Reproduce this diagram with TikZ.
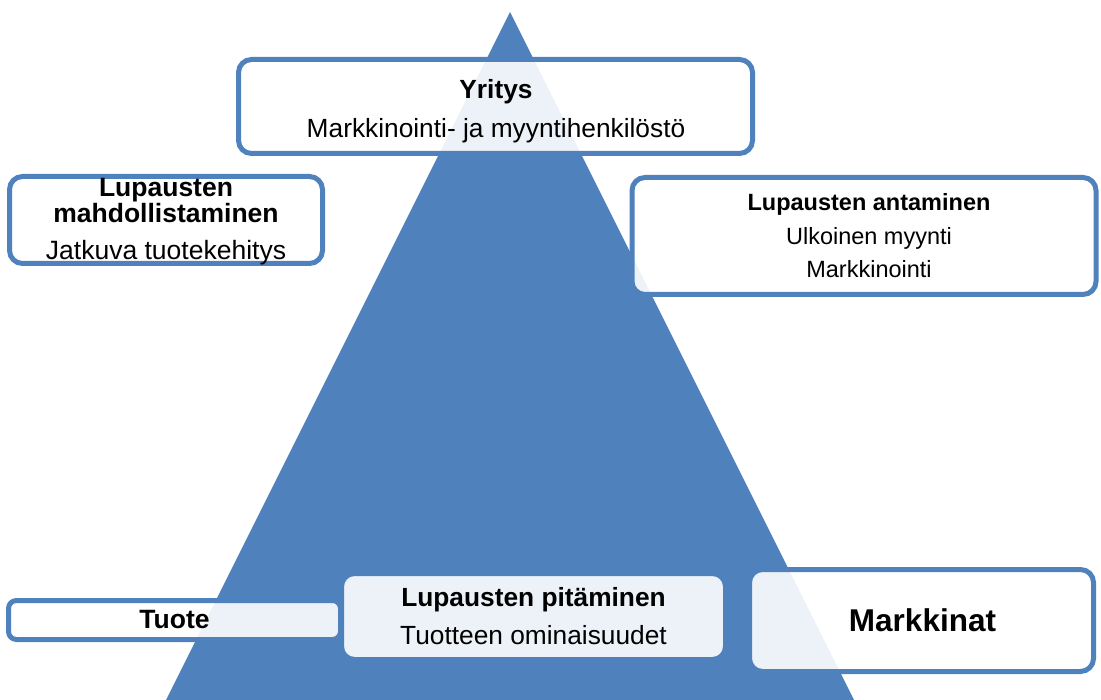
\documentclass[tikz,border=0pt]{standalone}
\usepackage{fontspec}
\setmainfont{Liberation Sans}
\definecolor{pyramid}{HTML}{4F81BD}
\tikzset{
  x=1pt, y=-1pt,
  panel/.style={draw=pyramid, line width=5pt, fill=white, fill opacity=0.9,
    rounded corners=13pt, inner sep=0pt, rectangle},
  thinpanel/.style={panel, rounded corners=8pt},
  lbl/.style={anchor=base, inner sep=0pt, text=black},
}
\newcommand{\fsz}[1]{\fontsize{#1}{#1}\selectfont}
\begin{document}
\begin{tikzpicture}
\useasboundingbox (0,0) rectangle (1101,700);

% the pyramid
\fill[pyramid] (510,12) -- (166,700) -- (854,700) -- cycle;

% panels
\node[panel, minimum width=514pt, minimum height=94pt] (yritys) at (495.5,106.5) {};
\node[panel, minimum width=313pt, minimum height=87pt] (mahd) at (166,220) {};
\node[panel, minimum width=464pt, minimum height=117pt] (anta) at (864,236) {};
\node[thinpanel, minimum width=332pt, minimum height=39pt] (tuote) at (174.5,620) {};
\node[panel, minimum width=384pt, minimum height=86pt] (pita) at (533.5,616.5) {};
\node[panel, minimum width=344pt, minimum height=102pt] (mark) at (921.5,620.5) {};

% texts
\node[lbl, font=\fsz{26.3}\bfseries] (t1) at (496,99) {Yritys};
\node[lbl, font=\fsz{26.3}] (t2) at (496,138) {Markkinointi- ja myyntihenkilöstö};

\node[lbl, font=\fsz{26.5}\bfseries] (t3) at (166,197) {Lupausten};
\node[lbl, font=\fsz{26.5}\bfseries] (t4) at (166,223) {mahdollistaminen};
\node[lbl, font=\fsz{26.5}] (t5) at (166,260) {Jatkuva tuotekehitys};

\node[lbl, font=\fsz{23.5}\bfseries] (t6) at (869,211) {Lupausten antaminen};
\node[lbl, font=\fsz{23.5}] (t7) at (869,245) {Ulkoinen myynti};
\node[lbl, font=\fsz{23.5}] (t8) at (869,278) {Markkinointi};

\node[lbl, font=\fsz{26.5}\bfseries] (t9) at (174.5,628) {Tuote};

\node[lbl, font=\fsz{26.3}\bfseries] (t10) at (533.5,606) {Lupausten pitäminen};
\node[lbl, font=\fsz{26.3}] (t11) at (533.5,644) {Tuotteen ominaisuudet};

\node[lbl, font=\fsz{31.5}\bfseries] (t12) at (922.5,631) {Markkinat};
\end{tikzpicture}
\end{document}
